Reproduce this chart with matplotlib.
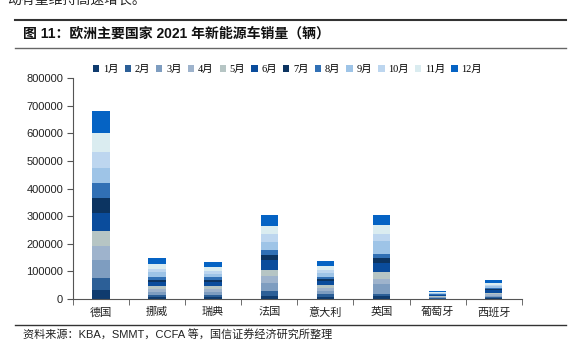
import numpy as np
import matplotlib
matplotlib.use("Agg")
import matplotlib.pyplot as plt
from matplotlib.lines import Line2D

plt.rcParams['font.family'] = ['Liberation Sans', 'Noto Sans CJK SC']

countries = ["德国", "挪威", "瑞典", "法国", "意大利", "英国", "葡萄牙", "西班牙"]
months = ["1月", "2月", "3月", "4月", "5月", "6月", "7月", "8月", "9月", "10月", "11月", "12月"]

# monthly sales per country (vehicles)
germany = [32600, 42300, 66400, 50700, 53200, 65200, 56800, 51900, 55600, 56800, 68900, 80900]
norway = [6600, 7200, 12500, 10000, 9800, 15800, 8500, 10500, 15500, 13000, 16500, 24000]
sweden = [7000, 7500, 12000, 9500, 10500, 15000, 7500, 9000, 14000, 11000, 12500, 19000]
france = [12000, 17000, 28000, 26000, 22000, 36000, 18000, 18000, 30000, 28000, 29000, 40000]
italy = [7600, 9000, 13000, 10500, 10500, 13000, 10300, 7300, 12800, 12000, 14000, 17000]
uk = [11000, 7000, 36000, 20000, 24000, 33000, 19000, 12000, 48000, 24000, 33000, 37000]
portugal = [1500, 1700, 2500, 2200, 2300, 2800, 2200, 1900, 2800, 2800, 3300, 4000]
spain = [3000, 3500, 6000, 5000, 5800, 7500, 6000, 4000, 5500, 6000, 7000, 9700]

colors = ["#0F3B6E", "#2C5F97", "#7E9DC0", "#9EB3CC", "#B6C5C4", "#0A4C9C",
          "#0C3461", "#3170B5", "#9EC4E7", "#BDD6EF", "#DAECF0", "#0563C4"]

data = np.array([germany, norway, sweden, france, italy, uk, portugal, spain])

fig = plt.figure(figsize=(5.74, 3.53), dpi=100)
ax = fig.add_axes([0.127, 0.153, 0.782, 0.626])

x = np.arange(len(countries))
bottom = np.zeros(len(countries))
for i in range(len(months)):
    ax.bar(x, data[:, i], 0.31, bottom=bottom, color=colors[i], label=months[i], linewidth=0)
    bottom += data[:, i]

ax.set_xlim(-0.5, len(countries) - 0.5)
ax.set_ylim(0, 800000)
ax.set_yticks(np.arange(0, 800001, 100000))
ax.set_yticklabels([str(v) for v in range(0, 800001, 100000)], fontsize=8, color="#222222")
ax.set_xticks(x)
ax.set_xticklabels(countries, fontsize=8, color="#222222")
ax.set_xticks(np.arange(-0.5, len(countries)), minor=True)
ax.tick_params(axis="x", which="major", length=0, pad=6)
ax.tick_params(axis="x", which="minor", length=4, direction="out", color="#555555")
ax.tick_params(axis="y", length=4, direction="out", color="#555555", pad=3)
for s in ["top", "right"]:
    ax.spines[s].set_visible(False)
for s in ["left", "bottom"]:
    ax.spines[s].set_color("#555555")
    ax.spines[s].set_linewidth(0.8)

leg = ax.legend(ncol=12, loc="center", bbox_to_anchor=(0.478, 1.038), frameon=False,
                handlelength=0.6, handleheight=0.6, handletextpad=0.35,
                columnspacing=0.6, prop={"family": ["Liberation Serif", "Noto Sans CJK SC"], "size": 7.5})

# page decoration around the figure
fig.text(0.012, 1.0, "动有望维持高速增长。", fontsize=10, va="center", ha="left", color="#222222")
fig.add_artist(Line2D([0.026, 0.986], [0.943, 0.943], color="#333333", linewidth=1.5))
fig.text(0.04, 0.906, "图 11：欧洲主要国家 2021 年新能源车销量（辆）", fontsize=10, fontweight="bold",
         va="center", ha="left", color="#111111")
fig.add_artist(Line2D([0.026, 0.986], [0.864, 0.864], color="#666666", linewidth=1.0))
fig.add_artist(Line2D([0.026, 0.986], [0.079, 0.079], color="#333333", linewidth=1.0))
fig.text(0.04, 0.052, "资料来源：KBA，SMMT，CCFA 等，国信证券经济研究所整理", fontsize=8,
         va="center", ha="left", color="#222222")

fig.savefig("out.png", dpi=100)
